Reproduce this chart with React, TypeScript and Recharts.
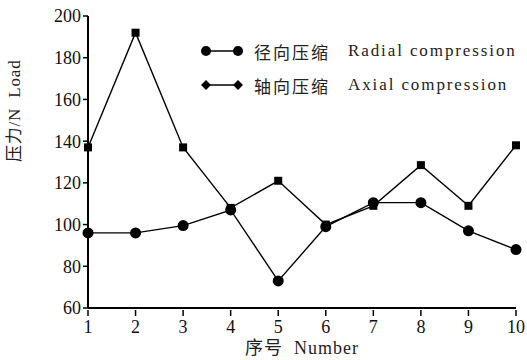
import React from 'react';
import { LineChart, Line, XAxis, YAxis } from 'recharts';

const numbers = [1, 2, 3, 4, 5, 6, 7, 8, 9, 10];
const radial = [96, 96, 99.5, 107, 73, 99, 110.5, 110.5, 97, 88];
const axial = [137, 192, 137, 108, 121, 100, 109, 128.5, 109, 138];
const yTicks = [60, 80, 100, 120, 140, 160, 180, 200];

const radialName = '径向压缩';
const radialEn = 'Radial compression';
const axialName = '轴向压缩';
const axialEn = 'Axial compression';

const data = numbers.map((n, i) => ({ n, radial: radial[i], axial: axial[i] }));

const FONT = '"Liberation Serif", "Noto Sans CJK SC", serif';

const CircleDot = (props: any) => {
    const { cx, cy } = props;
    if (cx == null || cy == null) return null;
    return <circle cx={cx} cy={cy} r={5.5} fill="#000" />;
};

const SquareDot = (props: any) => {
    const { cx, cy } = props;
    if (cx == null || cy == null) return null;
    return <rect x={cx - 4} y={cy - 4} width={8} height={8} fill="#000" />;
};

// x ticks point up into the plot, labels sit below the axis
const XTick = (props: any) => {
    const { x, y, payload } = props;
    return (
        <g>
            <line x1={x} y1={y} x2={x} y2={y - 6} stroke="#000" strokeWidth={1.5} />
            <text x={x} y={y + 17} textAnchor="middle" fontSize={18} fontFamily={FONT} fill="#111">
                {payload.value}
            </text>
        </g>
    );
};

const LegendRow = ({ marker, cn, en }: { marker: 'circle' | 'diamond'; cn: string; en: string }) => (
    <div style={{ display: 'flex', alignItems: 'center', height: 34, whiteSpace: 'nowrap' }}>
        <svg width={48} height={16}>
            <line x1={4} y1={8} x2={38} y2={8} stroke="#000" strokeWidth={1.5} />
            {marker === 'circle' ? (
                <>
                    <circle cx={6} cy={8} r={5} fill="#000" />
                    <circle cx={38} cy={8} r={5} fill="#000" />
                </>
            ) : (
                <>
                    <path d="M1 8 L6 3 L11 8 L6 13 Z" fill="#000" />
                    <path d="M33 8 L38 3 L43 8 L38 13 Z" fill="#000" />
                </>
            )}
        </svg>
        <span style={{ fontSize: 17, letterSpacing: 2, marginLeft: 6, width: 94, fontFamily: '"Noto Sans CJK SC"', color: '#222' }}>{cn}</span>
        <span style={{ fontSize: 17, letterSpacing: 1.9, fontFamily: FONT, color: '#222' }}>{en}</span>
    </div>
);

export default function App() {
    return (
        <div style={{ position: 'absolute', left: 0, top: 0, width: 527, height: 360, background: '#fff' }}>
            <LineChart width={527} height={360} data={data} margin={{ top: 16, right: 11, left: 28, bottom: 22 }}>
                <XAxis
                    dataKey="n"
                    type="number"
                    domain={[1, 10]}
                    ticks={numbers}
                    interval={0}
                    tick={<XTick />}
                    tickLine={false}
                    axisLine={{ stroke: '#000', strokeWidth: 2 }}
                    height={30}
                    label={{
                        value: '序号\u00a0\u00a0Number',
                        position: 'insideBottom',
                        offset: -16,
                        fontSize: 18,
                        letterSpacing: 1,
                        fontFamily: FONT,
                        fill: '#222',
                    }}
                />
                <YAxis
                    type="number"
                    domain={[60, 200]}
                    ticks={yTicks}
                    interval={0}
                    width={60}
                    tickSize={5}
                    tickLine={{ stroke: '#000', strokeWidth: 1.5 }}
                    axisLine={{ stroke: '#000', strokeWidth: 2 }}
                    tick={{ fontSize: 18, fontFamily: FONT, fill: '#111' }}
                    label={{
                        value: '压力/N\u00a0\u00a0Load',
                        angle: -90,
                        position: 'insideLeft',
                        offset: -14,
                        fontSize: 17,
                        letterSpacing: 0.8,
                        fontFamily: FONT,
                        fill: '#222',
                    }}
                />
                <Line
                    dataKey="radial"
                    stroke="#000"
                    strokeWidth={1.4}
                    dot={<CircleDot />}
                    activeDot={false}
                    isAnimationActive={false}
                />
                <Line
                    dataKey="axial"
                    stroke="#000"
                    strokeWidth={1.4}
                    dot={<SquareDot />}
                    activeDot={false}
                    isAnimationActive={false}
                />
            </LineChart>
            <div style={{ position: 'absolute', left: 200, top: 34 }}>
                <LegendRow marker="circle" cn={radialName} en={radialEn} />
                <LegendRow marker="diamond" cn={axialName} en={axialEn} />
            </div>
        </div>
    );
}
